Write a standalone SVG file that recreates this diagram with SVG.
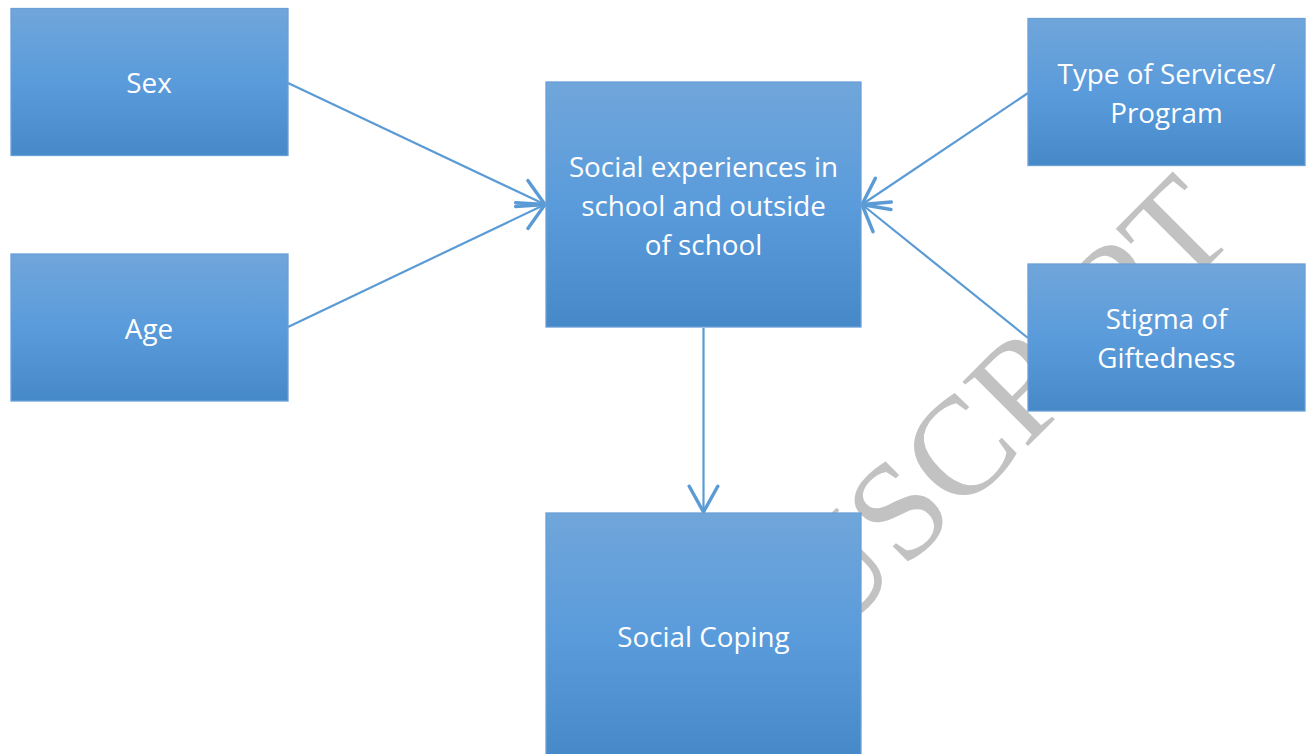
<svg xmlns="http://www.w3.org/2000/svg" width="1307" height="754" viewBox="0 0 1307 754">
<style>
.box{fill:url(#g);stroke:#6a9fd6;stroke-width:1.3}
.lbl{font-family:"Open Sans","Noto Sans","Liberation Sans",sans-serif;font-size:27.8px;fill:#ffffff;text-anchor:middle}
.conn{stroke:#5b9bd5;stroke-width:2.2;fill:none;marker-end:url(#arr)}
.wm{font-family:"Liberation Serif","DejaVu Serif",serif;font-size:140px;fill:#c2c2c2}
</style>
<defs>
<linearGradient id="g" x1="0" y1="0" x2="0" y2="1">
<stop offset="0" stop-color="#70a6da"/>
<stop offset="0.5" stop-color="#5a9bdb"/>
<stop offset="1" stop-color="#4689c9"/>
</linearGradient>
<marker id="arr" markerUnits="userSpaceOnUse" markerWidth="40" markerHeight="40" refX="0" refY="0" viewBox="-22 -14 26 28" orient="auto" overflow="visible">
<path d="M-18,-10 L0,0 L-18,10" fill="none" stroke="#5b9bd5" stroke-width="2.4" stroke-linecap="round" stroke-linejoin="round"/>
</marker>
</defs>
<rect width="1307" height="754" fill="#ffffff"/>
<text class="wm" x="832" y="642" transform="rotate(-45 832 642)">USCRIPT</text>
<g id="connectors">
<line class="conn" x1="288" y1="83" x2="545" y2="204.5"/>
<line class="conn" x1="288" y1="327" x2="545" y2="204.5"/>
<line class="conn" x1="1028" y1="93" x2="862" y2="204.5"/>
<line class="conn" x1="1028" y1="338" x2="862" y2="204.5"/>
<line class="conn" x1="703.5" y1="328" x2="703.5" y2="512"/>
</g>
<g id="sex">
<rect class="box" x="11" y="8.5" width="277" height="147"/>
<text class="lbl" x="149" y="93">Sex</text>
</g>
<g id="age">
<rect class="box" x="11" y="254" width="277" height="147"/>
<text class="lbl" x="149" y="339">Age</text>
</g>
<g id="social-experiences">
<rect class="box" x="546" y="82" width="315" height="245"/>
<text class="lbl" x="703.5" y="177">Social experiences in</text>
<text class="lbl" x="703.5" y="216">school and outside</text>
<text class="lbl" x="703.5" y="255">of school</text>
</g>
<g id="type-of-services">
<rect class="box" x="1028" y="18.5" width="277" height="147"/>
<text class="lbl" x="1166.5" y="84">Type of Services/</text>
<text class="lbl" x="1166.5" y="123">Program</text>
</g>
<g id="stigma">
<rect class="box" x="1028" y="264" width="277" height="147"/>
<text class="lbl" x="1166.5" y="329">Stigma of</text>
<text class="lbl" x="1166.5" y="368">Giftedness</text>
</g>
<g id="social-coping">
<rect class="box" x="546" y="513" width="315" height="245"/>
<text class="lbl" x="703.5" y="647">Social Coping</text>
</g>
</svg>
